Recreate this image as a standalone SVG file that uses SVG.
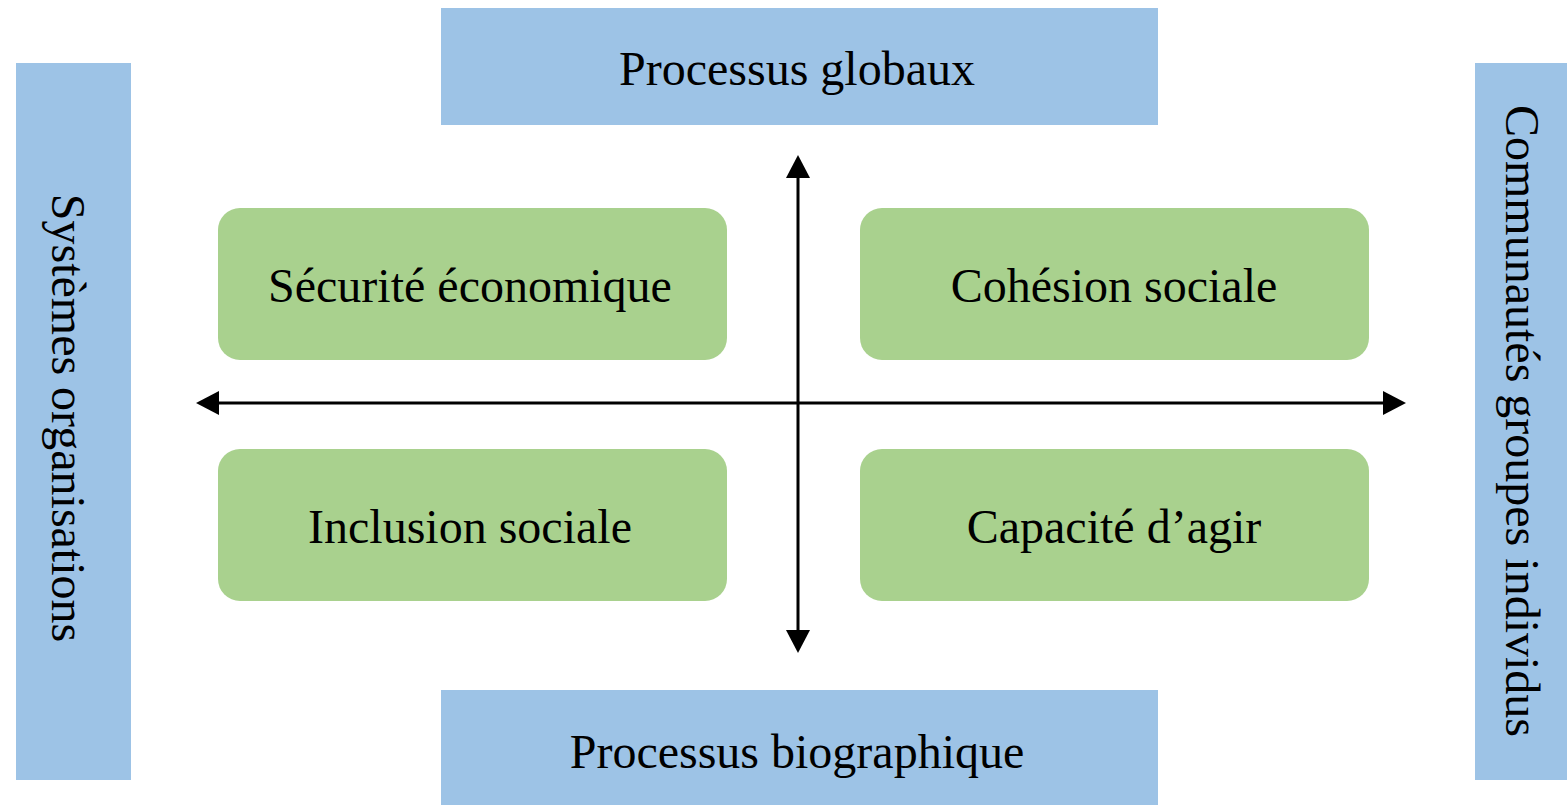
<svg xmlns="http://www.w3.org/2000/svg" width="1567" height="805" viewBox="0 0 1567 805">
<style>
.blue{fill:#9DC3E6}
.green{fill:#A9D18E}
.t{font-family:"Liberation Serif","Times New Roman",serif;font-size:48px;fill:#000;text-anchor:middle;dominant-baseline:central}
.ax{stroke:#000;stroke-width:3;fill:none}
</style>
<defs>
<marker id="ah" viewBox="0 0 23 24" refX="0" refY="12" markerWidth="23" markerHeight="24" markerUnits="userSpaceOnUse" orient="auto-start-reverse">
<path d="M0,0 L23,12 L0,24 z" fill="#000"/>
</marker>
</defs>
<rect width="1567" height="805" fill="#fff"/>
<g id="top"><rect class="blue" x="441" y="8" width="717" height="117"/><text class="t" x="797" y="68">Processus globaux</text></g>
<g id="bottom"><rect class="blue" x="441" y="690" width="717" height="115"/><text class="t" x="797" y="751">Processus biographique</text></g>
<g id="left"><rect class="blue" x="16" y="63" width="115" height="717"/><text class="t" transform="translate(68,418) rotate(90)">Systèmes organisations</text></g>
<g id="right"><rect class="blue" x="1475" y="63" width="92" height="717"/><text class="t" transform="translate(1522,421) rotate(90)">Communautés groupes individus</text></g>
<g id="securite"><rect class="green" x="218" y="208" width="509" height="152" rx="22"/><text class="t" x="470" y="285">Sécurité économique</text></g>
<g id="cohesion"><rect class="green" x="860" y="208" width="509" height="152" rx="22"/><text class="t" x="1114" y="285">Cohésion sociale</text></g>
<g id="inclusion"><rect class="green" x="218" y="449" width="509" height="152" rx="22"/><text class="t" x="470" y="526">Inclusion sociale</text></g>
<g id="capacite"><rect class="green" x="860" y="449" width="509" height="152" rx="22"/><text class="t" x="1114" y="526">Capacité d’agir</text></g>
<g id="connectors">
<line class="ax" x1="219" y1="403" x2="1383" y2="403" marker-start="url(#ah)" marker-end="url(#ah)"/>
<line class="ax" x1="798" y1="178" x2="798" y2="630" marker-start="url(#ah)" marker-end="url(#ah)"/>
</g>
</svg>
